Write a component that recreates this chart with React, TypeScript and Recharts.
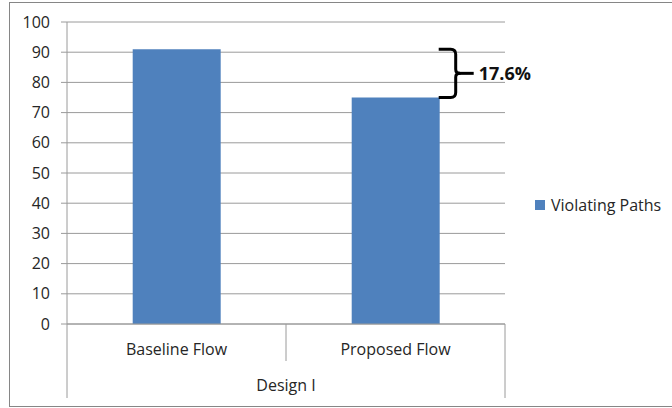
import React from 'react';
import {
  BarChart,
  Bar,
  XAxis,
  YAxis,
  CartesianGrid,
  Legend,
  LabelList,
} from 'recharts';

const categories = ['Baseline Flow', 'Proposed Flow'];
const violatingPaths = [91, 75];
const groupLabel = 'Design I';
const seriesName = 'Violating Paths';
const yTicks = [0, 10, 20, 30, 40, 50, 60, 70, 80, 90, 100];

const data = categories.map((name, i) => ({
  name,
  group: groupLabel,
  paths: violatingPaths[i],
}));

const WIDTH = 672;
const HEIGHT = 408;
const MARGIN = { top: 22, right: 167, bottom: 10, left: 10 };
const Y_AXIS_W = 57;
const PLOT_W = WIDTH - MARGIN.left - Y_AXIS_W - MARGIN.right;
const BAND = PLOT_W / categories.length;
const ROW_H = 37;

const FONT = '"Open Sans", sans-serif';
const TEXT = '#262626';
const LINE = '#9a9a9a';
const BLUE = '#4F81BD';

// category labels + the divider between neighbouring categories
const CategoryTick = (props: any) => {
  const { x, y, payload, index } = props;
  return (
    <g>
      <text
        x={x}
        y={y + 25}
        dy="0.355em"
        textAnchor="middle"
        fill={TEXT}
        fontFamily={FONT}
        fontSize={16}
      >
        {payload.value}
      </text>
      {index < categories.length - 1 && (
        <line x1={x + BAND / 2} y1={y} x2={x + BAND / 2} y2={y + ROW_H} stroke={LINE} />
      )}
    </g>
  );
};

// group label spanning all categories, with the outer frame lines
const GroupTick = (props: any) => {
  const { x, y, payload } = props;
  return (
    <g>
      <text
        x={x}
        y={y + 24}
        dy="0.355em"
        textAnchor="middle"
        fill={TEXT}
        fontFamily={FONT}
        fontSize={16}
      >
        {payload.value}
      </text>
      <line x1={x - PLOT_W / 2} y1={y - ROW_H} x2={x - PLOT_W / 2} y2={y + ROW_H} stroke={LINE} />
      <line x1={x + PLOT_W / 2} y1={y - ROW_H} x2={x + PLOT_W / 2} y2={y + ROW_H} stroke={LINE} />
    </g>
  );
};

// curly brace between the two bar tops with the relative reduction
const renderBrace = (props: any) => {
  const { x, y, width, height, index } = props;
  if (index !== 1) return null;
  const bottom = y + height;
  const unit = height / violatingPaths[1];
  const yT = bottom - violatingPaths[0] * unit;
  const yB = y;
  const ym = (yT + yB) / 2;
  const x0 = x + width - 1;
  const x1 = x0 + 17;
  const pct = (((violatingPaths[0] - violatingPaths[1]) / violatingPaths[0]) * 100).toFixed(1);
  const d = [
    `M ${x0} ${yT}`,
    `L ${x1 - 5} ${yT}`,
    `Q ${x1} ${yT} ${x1} ${yT + 5}`,
    `L ${x1} ${ym - 4}`,
    `Q ${x1} ${ym} ${x1 + 4} ${ym}`,
    `Q ${x1} ${ym} ${x1} ${ym + 4}`,
    `L ${x1} ${yB - 5}`,
    `Q ${x1} ${yB} ${x1 - 5} ${yB}`,
    `L ${x0} ${yB}`,
  ].join(' ');
  return (
    <g>
      <path d={d} fill="none" stroke="#000" strokeWidth={3} strokeLinejoin="round" />
      <line x1={x1 + 3} y1={ym} x2={x1 + 18} y2={ym} stroke="#000" strokeWidth={3} />
      <text
        x={x1 + 23}
        y={ym}
        dy="0.355em"
        fill="#111"
        fontFamily={FONT}
        fontSize={18}
        fontWeight="bold"
      >
        {pct}%
      </text>
    </g>
  );
};

const LegendBox = () => (
  <div
    style={{
      display: 'flex',
      alignItems: 'center',
      fontFamily: FONT,
      fontSize: 16,
      color: TEXT,
      whiteSpace: 'nowrap',
    }}
  >
    <span
      style={{
        display: 'inline-block',
        width: 10,
        height: 10,
        background: BLUE,
        marginRight: 6,
      }}
    />
    {seriesName}
  </div>
);

export default function App() {
  return (
    <div
      style={{
        position: 'fixed',
        left: 0,
        top: 0,
        width: WIDTH,
        height: HEIGHT,
        overflow: 'hidden',
        background: '#fff',
      }}
    >
      <div
        style={{
          position: 'absolute',
          left: 9,
          top: 2,
          width: 700,
          height: 403,
          border: '1px solid #868686',
        }}
      />
      <BarChart width={WIDTH} height={HEIGHT} data={data} margin={MARGIN} barCategoryGap="30%">
        <CartesianGrid vertical={false} stroke={LINE} />
        <XAxis
          dataKey="name"
          height={ROW_H}
          tickSize={0}
          tickMargin={0}
          tickLine={false}
          axisLine={{ stroke: LINE }}
          tick={<CategoryTick />}
          interval={0}
        />
        <XAxis
          xAxisId="group"
          dataKey="group"
          allowDuplicatedCategory={false}
          height={ROW_H}
          tickSize={0}
          tickMargin={0}
          tickLine={false}
          axisLine={false}
          tick={<GroupTick />}
        />
        <YAxis
          width={Y_AXIS_W}
          domain={[0, 100]}
          ticks={yTicks}
          interval={0}
          tickSize={6}
          tickMargin={11}
          tickLine={{ stroke: LINE }}
          axisLine={{ stroke: LINE }}
          tick={{ fill: TEXT, fontFamily: FONT, fontSize: 16 }}
        />
        <Legend
          layout="horizontal"
          verticalAlign="middle"
          align="center"
          content={<LegendBox />}
          wrapperStyle={{ left: 535, top: 194, width: 'auto' }}
        />
        <Bar dataKey="paths" name={seriesName} fill={BLUE} isAnimationActive={false}>
          <LabelList dataKey="paths" content={renderBrace} />
        </Bar>
      </BarChart>
    </div>
  );
}
